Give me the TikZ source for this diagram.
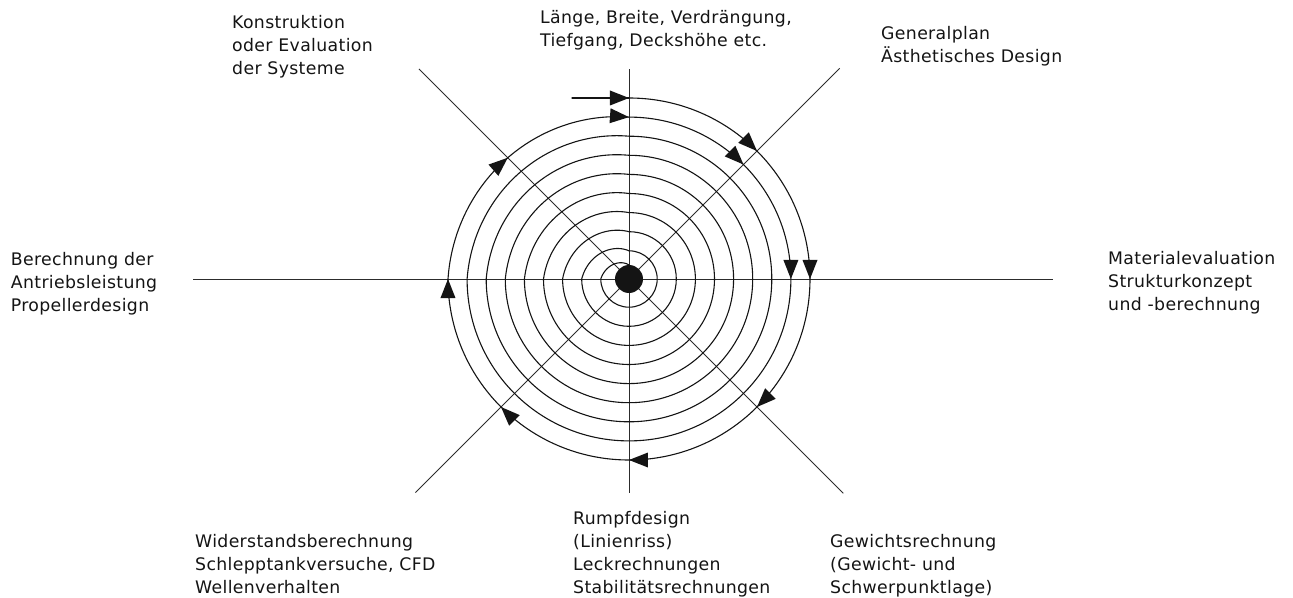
\documentclass[tikz,border=0pt]{standalone}
\usepackage{fontspec}
\newfontfamily\lblfont{DejaVu Sans}[LetterSpace=2]
\definecolor{ink}{HTML}{141414}
\newcommand\spiralarrow[3]{\fill[ink,shift={(#1:#2)},rotate=#3] (0,0) -- (-19,7.5) -- (-19,-7.5) -- cycle;}
\begin{document}
\begin{tikzpicture}[x=1pt,y=1pt,
  spiral/.style={line width=1.1pt,draw=ink,line cap=round,line join=round},
  ray/.style={line width=0.8pt,draw=ink!90},
  lbl/.style={anchor=base west,align=left,inner sep=0pt,text=ink,font=\lblfont\fontsize{17.3}{23}\selectfont}]
\useasboundingbox (-629,-318) rectangle (664,279);
\coordinate (O) at (0,0);
% radial lines
\coordinate (W) at (180:436);
\coordinate (E) at (0:424);
\coordinate (N) at (90:210);
\coordinate (S) at (-90:214);
\coordinate (NE) at (45:298);
\coordinate (NW) at (135:297);
\coordinate (SW) at (-135:302);
\coordinate (SE) at (-45:303);
\foreach \p in {W,E,N,S,NE,NW,SW,SE} \draw[ray] (O) -- (\p);
% spiral
\foreach \k in {0,...,8}{
  \pgfmathsetmacro\ra{181-19.1*\k}
  \pgfmathsetmacro\rb{max(\ra-19.1,14)}
  \draw[spiral] (90:\ra) arc[start angle=90,end angle=-180,radius=\ra pt]
    -- plot[domain=-180:-270,samples=37,smooth,variable=\t] (\t:{\ra+(\rb-\ra)*(-180-\t)/90});
}
% lead-in
\coordinate (start) at (-57,181);
\coordinate (top) at (90:181);
\draw[spiral] (start) -- (top);
% arrowheads
\spiralarrow{90}{181}{0}
\spiralarrow{45}{181}{-45}
\spiralarrow{0}{181}{-90}
\spiralarrow{-45}{181}{-135}
\spiralarrow{-90}{181}{-180}
\spiralarrow{-135}{181}{-225}
\spiralarrow{-180}{181}{-270}
\spiralarrow{135}{171.45}{41}
\spiralarrow{90}{161.9}{-4}
\spiralarrow{45}{161.9}{-45}
\spiralarrow{0}{161.9}{-90}
% centre dot
\fill[ink] (O) circle[radius=14pt];
% labels (anchored at the baseline of the last line)
\node[lbl] (t1) at (-397,204.5) {Konstruktion\\oder Evaluation\\der Systeme};
\node[lbl] (t2) at (-89,232) {Länge, Breite, Verdrängung,\\Tiefgang, Deckshöhe etc.};
\node[lbl] (t3) at (252,216) {Generalplan\\Ästhetisches Design};
\node[lbl] (t4) at (-618.3,-32) {Berechnung der\\Antriebsleistung\\Propellerdesign};
\node[lbl] (t5) at (479,-31) {Materialevaluation\\Strukturkonzept\\und -berechnung};
\node[lbl] (t6) at (-434,-314) {Widerstandsberechnung\\Schlepptankversuche, CFD\\Wellenverhalten};
\node[lbl] (t7) at (-56,-314) {Rumpfdesign\\(Linienriss)\\Leckrechnungen\\Stabilitätsrechnungen};
\node[lbl] (t8) at (201,-314) {Gewichtsrechnung\\(Gewicht- und\\Schwerpunktlage)};
\end{tikzpicture}
\end{document}
